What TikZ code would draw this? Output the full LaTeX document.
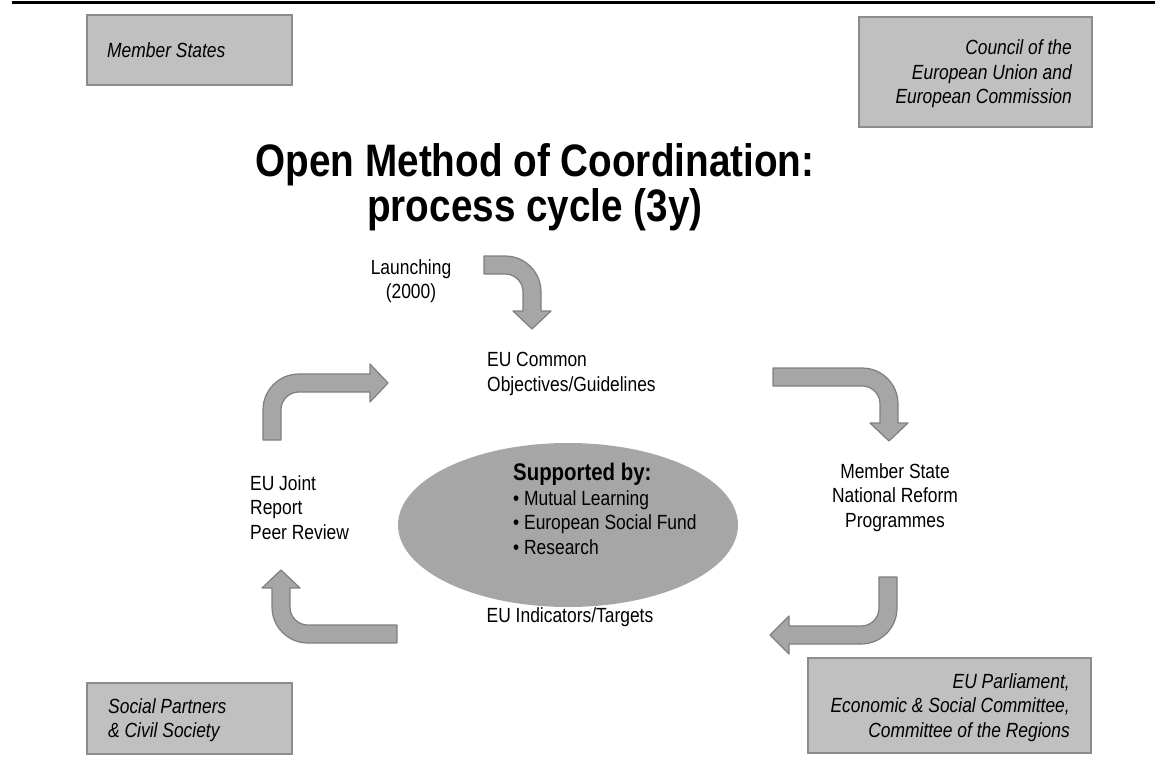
\documentclass[tikz,border=0pt]{standalone}
\usepackage{fontspec}
\setmainfont[FakeStretch=0.85]{Liberation Sans}
\usetikzlibrary{shapes.geometric}
\definecolor{boxgray}{HTML}{C0C0C0}
\definecolor{boxedge}{HTML}{8C8C8C}
\definecolor{arrowgray}{HTML}{A6A6A6}
\definecolor{arrowedge}{HTML}{7F7F7F}
\begin{document}
\begin{tikzpicture}[x=1pt,y=-1pt,
  actor/.style={draw=boxedge, fill=boxgray, line width=1.3pt},
  actortext/.style={inner sep=0pt, font=\fontsize{20.5}{24.5}\selectfont\itshape},
  stage/.style={inner sep=0pt, font=\fontsize{20.5}{24.5}\selectfont},
  bent/.style={fill=arrowgray, draw=arrowedge, line width=1.2pt, line join=round}]
\useasboundingbox (0,0) rectangle (1168,774);
\draw[line width=3pt] (12,2.5) -- (1155,2.5);
% the four actor boxes
\node[actor, minimum width=205pt, minimum height=70pt] (states) at (189.5,50) {};
\node[actortext, anchor=west, align=left] (statestext) at (107,50.5) {Member States};
\node[actor, minimum width=233pt, minimum height=110pt] (council) at (975.5,72) {};
\node[actortext, anchor=east, align=right] (counciltext) at (1072,74) {Council of the\\European Union and\\European Commission};
\node[actor, minimum width=205pt, minimum height=71pt] (partners) at (189.5,718.5) {};
\node[actortext, anchor=west, align=left] (partnerstext) at (108,720) {Social Partners\\\& Civil Society};
\node[actor, minimum width=283pt, minimum height=95pt] (parliament) at (949.5,705.5) {};
\node[actortext, anchor=east, align=right] (parliamenttext) at (1070,707.5) {EU Parliament,\\Economic \& Social Committee,\\Committee of the Regions};
\node[inner sep=0pt, anchor=north, align=center, font=\fontsize{45.5}{45}\selectfont\bfseries] (title) at (535,143) {Open Method of Coordination:\\process cycle (3y)};
% cycle in the middle
\node[ellipse, fill=arrowgray, minimum width=340pt, minimum height=164pt] (oval) at (568,525) {};
\node[stage, anchor=north west, align=left] (support) at (513,463) {{\fontsize{24}{26}\selectfont\bfseries Supported by:}\\\textbullet\ Mutual Learning\\\textbullet\ European Social Fund\\\textbullet\ Research};
\node[stage, anchor=north, align=center] (launch) at (411,259) {Launching\\(2000)};
\node[stage, anchor=north west, align=left] (objectives) at (487,352) {EU Common\\Objectives/Guidelines};
\node[stage, anchor=north, align=center] (programmes) at (895,463) {Member State\\National Reform\\Programmes};
\node[stage, anchor=north] (indicators) at (570,607) {EU Indicators/Targets};
\node[stage, anchor=north west, align=left] (joint) at (250,475) {EU Joint\\Report\\Peer Review};
\draw[bent] (484,256) -- (505,256) .. controls (525,256) and (541,272) .. (541,292) -- (541,311) -- (551,311) -- (532,329) -- (513,311) -- (523,311) -- (523,292) .. controls (523,282) and (515,274) .. (505,274) -- (484,274) -- cycle;
\draw[bent] (773,368) -- (862,368) .. controls (882,368) and (898,384) .. (898,404) -- (898,423) -- (908,423) -- (889,441) -- (870,423) -- (880,423) -- (880,404) .. controls (880,394) and (872,386) .. (862,386) -- (773,386) -- cycle;
\draw[bent] (879,577) -- (897,577) -- (897,608) .. controls (897,628) and (881,644) .. (861,644) -- (789,644) -- (789,654) -- (770,635) -- (789,616) -- (789,626) -- (861,626) .. controls (871,626) and (879,618) .. (879,608) -- cycle;
\draw[bent] (397,625) -- (308,625) .. controls (298,625) and (290,617) .. (290,607) -- (290,588) -- (300,588) -- (281,570) -- (262,588) -- (272,588) -- (272,607) .. controls (272,627) and (288,643) .. (308,643) -- (397,643) -- cycle;
\draw[bent] (263,440) -- (263,410) .. controls (263,390) and (279,374) .. (299,374) -- (370,374) -- (370,364) -- (388,383) -- (370,402) -- (370,392) -- (299,392) .. controls (289,392) and (281,400) .. (281,410) -- (281,440) -- cycle;
\end{tikzpicture}
\end{document}
